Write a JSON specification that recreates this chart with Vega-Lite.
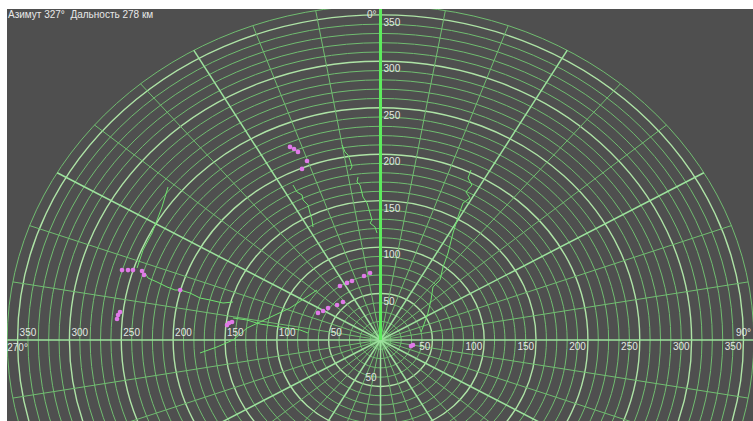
{
  "$schema": "https://vega.github.io/schema/vega-lite/v6.json",
  "width": 746,
  "height": 412,
  "autosize": {"type": "none"},
  "padding": {"left": 7, "top": 9, "right": 0, "bottom": 0},
  "background": "#ffffff",
  "view": {"fill": "#4f4f4f", "stroke": null},
  "title": {"text": "Азимут 327°\u00a0 Дальность 278 км", "anchor": "start", "frame": "group", "orient": "top", "offset": -16, "baseline": "middle", "fontSize": 10, "fontWeight": "normal", "font": "Liberation Sans", "color": "#e8e8e8", "dx": 1},
  "config": {"text": {"font": "Liberation Sans", "fontSize": 10, "color": "#e2e8e2"}},
  "layer": [
    {
      "data": {"values": [{"r":10},{"r":20},{"r":30},{"r":40},{"r":50},{"r":60},{"r":70},{"r":80},{"r":90},{"r":100},{"r":110},{"r":120},{"r":130},{"r":140},{"r":150},{"r":160},{"r":170},{"r":180},{"r":190},{"r":200},{"r":210},{"r":220},{"r":230},{"r":240},{"r":250},{"r":260},{"r":270},{"r":280},{"r":290},{"r":300},{"r":310},{"r":320},{"r":330},{"r":340},{"r":350},{"r":360}]},
      "mark": {"type": "point", "shape": "M 1 0 C 1 0.4948 0.5523 0.8959 0 0.8959 C -0.5523 0.8959 -1 0.4948 -1 0 C -1 -0.4948 -0.5523 -0.8959 0 -0.8959 C 0.5523 -0.8959 1 -0.4948 1 0 Z", "filled": false, "clip": true, "opacity": 1},
      "encoding": {
        "x": {"datum": 0, "type": "quantitative", "scale": {"type": "linear", "domain": [-360.2, 359.2], "nice": false, "zero": false}, "axis": null},
        "y": {"datum": 0, "type": "quantitative", "scale": {"type": "linear", "domain": [-87.2, 356.3], "nice": false, "zero": false}, "axis": null},
        "size": {"field": "r", "type": "quantitative", "scale": {"type": "pow", "exponent": 2, "domain": [0, 360], "range": [0, 557441]}, "legend": null},
        "stroke": {"condition": {"test": "datum.r % 50 === 0", "value": "#aee4a6"}, "value": "#70bd70"},
        "strokeWidth": {"condition": {"test": "datum.r % 50 === 0", "value": 1.4}, "value": 1}
      }
    },
    {
      "data": {"values": [
        {"az":10,"ex":62.5,"ey":354.5},{"az":20,"ex":123.1,"ey":338.3},{"az":40,"ex":231.4,"ey":275.8},{"az":50,"ex":275.8,"ey":231.4},{"az":70,"ex":338.3,"ey":123.1},{"az":80,"ex":354.5,"ey":62.5},
        {"az":100,"ex":354.5,"ey":-62.5},{"az":110,"ex":338.3,"ey":-123.1},{"az":130,"ex":275.8,"ey":-231.4},{"az":140,"ex":231.4,"ey":-275.8},{"az":160,"ex":123.1,"ey":-338.3},{"az":170,"ex":62.5,"ey":-354.5},
        {"az":190,"ex":-62.5,"ey":-354.5},{"az":200,"ex":-123.1,"ey":-338.3},{"az":220,"ex":-231.4,"ey":-275.8},{"az":230,"ex":-275.8,"ey":-231.4},{"az":250,"ex":-338.3,"ey":-123.1},{"az":260,"ex":-354.5,"ey":-62.5},
        {"az":280,"ex":-354.5,"ey":62.5},{"az":290,"ex":-338.3,"ey":123.1},{"az":310,"ex":-275.8,"ey":231.4},{"az":320,"ex":-231.4,"ey":275.8},{"az":340,"ex":-123.1,"ey":338.3},{"az":350,"ex":-62.5,"ey":354.5},
        {"az":30,"ex":180,"ey":311.8},{"az":60,"ex":311.8,"ey":180},{"az":90,"ex":360,"ey":0},{"az":120,"ex":311.8,"ey":-180},{"az":150,"ex":180,"ey":-311.8},{"az":180,"ex":0,"ey":-360},
        {"az":210,"ex":-180,"ey":-311.8},{"az":240,"ex":-311.8,"ey":-180},{"az":270,"ex":-360,"ey":0},{"az":300,"ex":-311.8,"ey":180},{"az":330,"ex":-180,"ey":311.8},{"az":0,"ex":0,"ey":360}
      ]},
      "mark": {"type": "rule", "clip": true},
      "encoding": {
        "x": {"field": "ex", "type": "quantitative", "scale": {"type": "linear", "domain": [-360.2, 359.2], "nice": false, "zero": false}, "axis": null},
        "y": {"field": "ey", "type": "quantitative", "scale": {"type": "linear", "domain": [-87.2, 356.3], "nice": false, "zero": false}, "axis": null},
        "x2": {"datum": 0},
        "y2": {"datum": 0},
        "stroke": {"condition": [{"test": "datum.az === 0", "value": "#5cec5c"}, {"test": "datum.az % 30 === 0", "value": "#9de29d"}], "value": "#70bd70"},
        "strokeWidth": {"condition": [{"test": "datum.az === 0", "value": 3}, {"test": "datum.az % 30 === 0", "value": 1.5}], "value": 1}
      }
    },
    {
      "data": {"values": [
        {"trk":"a","i":0,"x":-37.1,"y":209.9},{"trk":"a","i":1,"x":-34.2,"y":202.4},{"trk":"a","i":2,"x":-31.3,"y":199.1},{"trk":"a","i":3,"x":-29.4,"y":193.8},{"trk":"a","i":4,"x":-27.5,"y":186.2},{"trk":"a","i":5,"x":-29.4,"y":183.0},
        {"trk":"b","i":0,"x":-21.7,"y":175.5},{"trk":"b","i":1,"x":-22.7,"y":170.1},{"trk":"b","i":2,"x":-19.8,"y":166.8},{"trk":"b","i":3,"x":-16.9,"y":153.9},{"trk":"b","i":4,"x":-13.0,"y":147.5},{"trk":"b","i":5,"x":-10.1,"y":136.7},{"trk":"b","i":6,"x":-8.2,"y":129.2},{"trk":"b","i":7,"x":-10.1,"y":125.9},{"trk":"b","i":8,"x":-5.3,"y":121.6},{"trk":"b","i":9,"x":-3.4,"y":115.2},
        {"trk":"c","i":0,"x":-84.4,"y":166.8},{"trk":"c","i":1,"x":-80.5,"y":159.3},{"trk":"c","i":2,"x":-75.7,"y":156.1},{"trk":"c","i":3,"x":-74.7,"y":150.7},{"trk":"c","i":4,"x":-69.9,"y":145.3},{"trk":"c","i":5,"x":-68.0,"y":136.7},{"trk":"c","i":6,"x":-66.1,"y":129.2},{"trk":"c","i":7,"x":-65.1,"y":121.6},
        {"trk":"d","i":0,"x":87.3,"y":183.0},{"trk":"d","i":1,"x":84.4,"y":174.4},{"trk":"d","i":2,"x":88.2,"y":166.8},{"trk":"d","i":3,"x":82.4,"y":159.3},{"trk":"d","i":4,"x":86.3,"y":152.9},{"trk":"d","i":5,"x":79.6,"y":147.5},{"trk":"d","i":6,"x":74.7,"y":132.4},{"trk":"d","i":7,"x":69.9,"y":115.2},{"trk":"d","i":8,"x":65.1,"y":93.6},{"trk":"d","i":9,"x":60.3,"y":78.6},{"trk":"d","i":10,"x":57.4,"y":64.6},{"trk":"d","i":11,"x":50.6,"y":57.1},{"trk":"d","i":12,"x":48.7,"y":43.1},{"trk":"d","i":13,"x":45.8,"y":29.1},{"trk":"d","i":14,"x":41.0,"y":14.0},{"trk":"d","i":15,"x":39.1,"y":8.6},
        {"trk":"e","i":0,"x":-204.9,"y":164.7},{"trk":"e","i":1,"x":-210.7,"y":143.2},{"trk":"e","i":2,"x":-215.5,"y":129.2},{"trk":"e","i":3,"x":-220.3,"y":115.2},{"trk":"e","i":4,"x":-229.0,"y":96.9},{"trk":"e","i":5,"x":-234.8,"y":77.5},
        {"trk":"f","i":0,"x":-227.1,"y":72.1},{"trk":"f","i":1,"x":-224.2,"y":66.7},{"trk":"f","i":2,"x":-215.5,"y":62.4},{"trk":"f","i":3,"x":-205.9,"y":57.1},{"trk":"f","i":4,"x":-198.2,"y":53.8},{"trk":"f","i":5,"x":-193.3,"y":53.8},{"trk":"f","i":6,"x":-183.7,"y":50.6},{"trk":"f","i":7,"x":-174.1,"y":45.2},{"trk":"f","i":8,"x":-164.5,"y":43.1},{"trk":"f","i":9,"x":-151.9,"y":39.8},{"trk":"f","i":10,"x":-142.2,"y":40.9},
        {"trk":"g","i":0,"x":-142.2,"y":23.7},{"trk":"g","i":1,"x":-128.7,"y":21.5},{"trk":"g","i":2,"x":-116.2,"y":17.2},{"trk":"g","i":3,"x":-103.7,"y":15.1},{"trk":"g","i":4,"x":-90.2,"y":12.9},{"trk":"g","i":5,"x":-77.6,"y":10.8},{"trk":"g","i":6,"x":-69.9,"y":7.5},
        {"trk":"h","i":0,"x":-174.1,"y":-14.0},{"trk":"h","i":1,"x":-157.7,"y":-7.5},{"trk":"h","i":2,"x":-142.2,"y":0},{"trk":"h","i":3,"x":-128.7,"y":12.9},{"trk":"h","i":4,"x":-116.2,"y":19.4},{"trk":"h","i":5,"x":-87.3,"y":34.4},{"trk":"h","i":6,"x":-61.2,"y":53.8}
      ]},
      "mark": {"type": "line", "clip": true, "stroke": "#6fe06f", "strokeWidth": 1},
      "encoding": {
        "x": {"field": "x", "type": "quantitative", "scale": {"type": "linear", "domain": [-360.2, 359.2], "nice": false, "zero": false}, "axis": null},
        "y": {"field": "y", "type": "quantitative", "scale": {"type": "linear", "domain": [-87.2, 356.3], "nice": false, "zero": false}, "axis": null},
        "detail": {"field": "trk", "type": "nominal"},
        "order": {"field": "i", "type": "quantitative"}
      }
    },
    {
      "data": {"values": [
        {"x":-87.3,"y":207.8},{"x":-83.4,"y":205.6},{"x":-79.6,"y":202.4},{"x":-70.9,"y":192.7},{"x":-75.7,"y":184.1},
        {"x":-249.3,"y":75.3},{"x":-243.5,"y":75.3},{"x":-238.7,"y":75.3},{"x":-230.0,"y":74.3},{"x":-228.1,"y":70.0},{"x":-193.2,"y":53.8},
        {"x":-251.2,"y":30.1},{"x":-253.1,"y":26.9},{"x":-254.1,"y":22.6},
        {"x":-148.0,"y":16.1},{"x":-146.1,"y":18.3},{"x":-143.2,"y":19.4},
        {"x":-10.1,"y":72.1},{"x":-15.9,"y":68.9},{"x":-27.5,"y":63.5},{"x":-32.3,"y":61.4},{"x":-39.1,"y":58.1},
        {"x":-36.2,"y":40.9},{"x":-41.9,"y":37.7},{"x":-50.6,"y":34.4},{"x":-55.4,"y":31.2},{"x":-60.3,"y":29.1},
        {"x":29.4,"y":-6.5},{"x":31.3,"y":-5.4}
      ]},
      "mark": {"type": "point", "shape": "circle", "filled": true, "size": 22, "color": "#e07ae8", "opacity": 1},
      "encoding": {
        "x": {"field": "x", "type": "quantitative", "scale": {"type": "linear", "domain": [-360.2, 359.2], "nice": false, "zero": false}, "axis": null},
        "y": {"field": "y", "type": "quantitative", "scale": {"type": "linear", "domain": [-87.2, 356.3], "nice": false, "zero": false}, "axis": null}
      }
    },
    {
      "data": {"values": [{"v":50,"t":"50"},{"v":100,"t":"100"},{"v":150,"t":"150"},{"v":200,"t":"200"},{"v":250,"t":"250"},{"v":300,"t":"300"},{"v":350,"t":"350"}]},
      "mark": {"type": "text", "align": "left", "baseline": "middle", "dx": 3, "dy": 8},
      "encoding": {
        "x": {"datum": 0, "type": "quantitative", "scale": {"type": "linear", "domain": [-360.2, 359.2], "nice": false, "zero": false}, "axis": null},
        "y": {"field": "v", "type": "quantitative", "scale": {"type": "linear", "domain": [-87.2, 356.3], "nice": false, "zero": false}, "axis": null},
        "text": {"field": "t"}
      }
    },
    {
      "data": {"values": [{"v":50,"t":"50"},{"v":100,"t":"100"},{"v":150,"t":"150"},{"v":200,"t":"200"},{"v":250,"t":"250"},{"v":300,"t":"300"},{"v":350,"t":"350"}]},
      "mark": {"type": "text", "align": "right", "baseline": "middle", "dx": -2, "dy": 7},
      "encoding": {
        "x": {"field": "v", "type": "quantitative", "scale": {"type": "linear", "domain": [-360.2, 359.2], "nice": false, "zero": false}, "axis": null},
        "y": {"datum": 0, "type": "quantitative", "scale": {"type": "linear", "domain": [-87.2, 356.3], "nice": false, "zero": false}, "axis": null},
        "text": {"field": "t"}
      }
    },
    {
      "data": {"values": [{"v":-50,"t":"50"},{"v":-100,"t":"100"},{"v":-150,"t":"150"},{"v":-200,"t":"200"},{"v":-250,"t":"250"},{"v":-300,"t":"300"},{"v":-350,"t":"350"}]},
      "mark": {"type": "text", "align": "left", "baseline": "middle", "dx": 2, "dy": -7},
      "encoding": {
        "x": {"field": "v", "type": "quantitative", "scale": {"type": "linear", "domain": [-360.2, 359.2], "nice": false, "zero": false}, "axis": null},
        "y": {"datum": 0, "type": "quantitative", "scale": {"type": "linear", "domain": [-87.2, 356.3], "nice": false, "zero": false}, "axis": null},
        "text": {"field": "t"}
      }
    },
    {
      "data": {"values": [{"v":-50,"t":"50"}]},
      "mark": {"type": "text", "align": "right", "baseline": "middle", "dx": -4, "dy": -8},
      "encoding": {
        "x": {"datum": 0, "type": "quantitative", "scale": {"type": "linear", "domain": [-360.2, 359.2], "nice": false, "zero": false}, "axis": null},
        "y": {"field": "v", "type": "quantitative", "scale": {"type": "linear", "domain": [-87.2, 356.3], "nice": false, "zero": false}, "axis": null},
        "text": {"field": "t"}
      }
    },
    {
      "data": {"values": [{"v":350,"t":"0°"}]},
      "mark": {"type": "text", "align": "right", "baseline": "middle", "dx": -4, "dy": 0},
      "encoding": {
        "x": {"datum": 0, "type": "quantitative", "scale": {"type": "linear", "domain": [-360.2, 359.2], "nice": false, "zero": false}, "axis": null},
        "y": {"field": "v", "type": "quantitative", "scale": {"type": "linear", "domain": [-87.2, 356.3], "nice": false, "zero": false}, "axis": null},
        "text": {"field": "t"}
      }
    },
    {
      "data": {"values": [{"v":350,"t":"90°"}]},
      "mark": {"type": "text", "align": "center", "baseline": "middle", "dy": -7},
      "encoding": {
        "x": {"field": "v", "type": "quantitative", "scale": {"type": "linear", "domain": [-360.2, 359.2], "nice": false, "zero": false}, "axis": null},
        "y": {"datum": 0, "type": "quantitative", "scale": {"type": "linear", "domain": [-87.2, 356.3], "nice": false, "zero": false}, "axis": null},
        "text": {"field": "t"}
      }
    },
    {
      "data": {"values": [{"v":-350,"t":"270°"}]},
      "mark": {"type": "text", "align": "center", "baseline": "middle", "dy": 8},
      "encoding": {
        "x": {"field": "v", "type": "quantitative", "scale": {"type": "linear", "domain": [-360.2, 359.2], "nice": false, "zero": false}, "axis": null},
        "y": {"datum": 0, "type": "quantitative", "scale": {"type": "linear", "domain": [-87.2, 356.3], "nice": false, "zero": false}, "axis": null},
        "text": {"field": "t"}
      }
    }
  ]
}
